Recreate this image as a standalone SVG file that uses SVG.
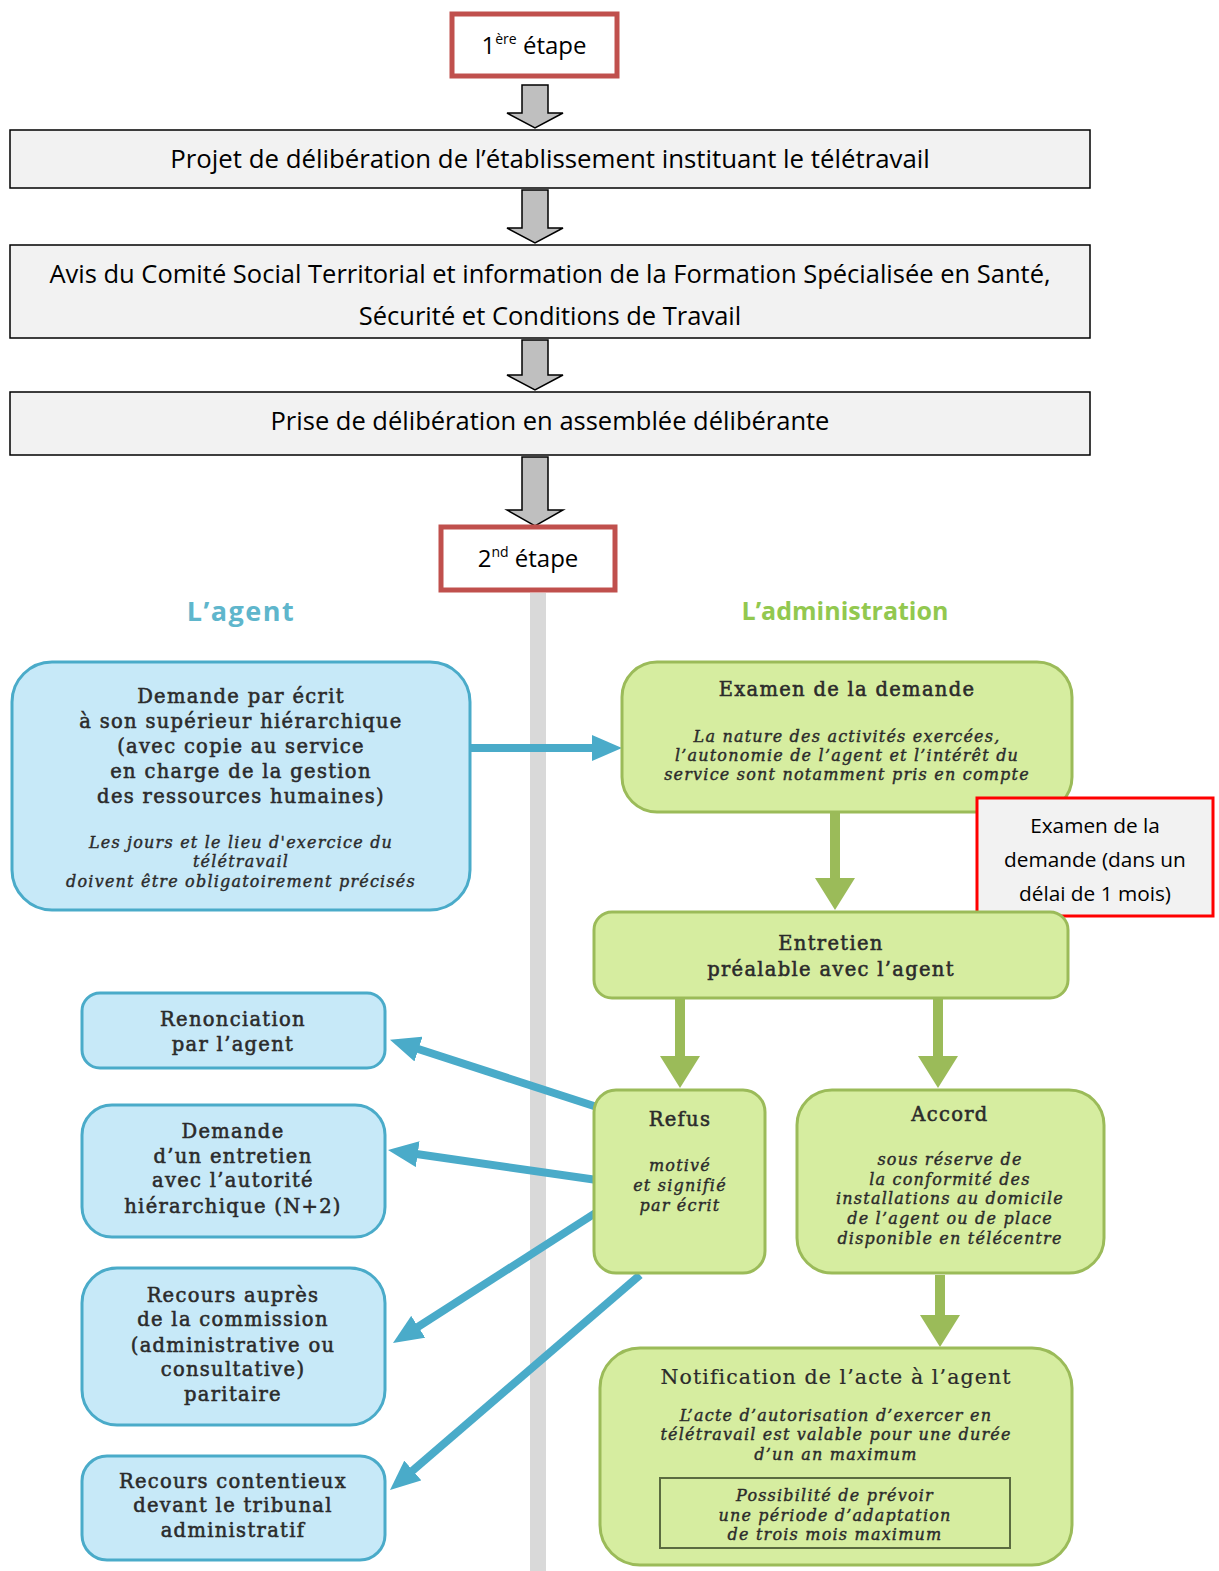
<svg xmlns="http://www.w3.org/2000/svg" width="1219" height="1571" viewBox="0 0 1219 1571">
<defs>
<style>
.sans{font-family:"Open Sans","Liberation Sans",sans-serif;fill:#000;text-anchor:middle}
.ser{font-family:"DejaVu Serif","Liberation Serif",serif;fill:#2b2b2b;stroke:#2b2b2b;stroke-width:0.55px;text-anchor:middle;font-size:19.5px;letter-spacing:1.3px}
.ital{font-style:italic;font-size:16px;letter-spacing:1.2px;stroke-width:0.4px}
.step{fill:#fff;stroke:#c0504d;stroke-width:5}
.pbox{fill:#f2f2f2;stroke:#000;stroke-width:1.5}
.garr{fill:#bfbfbf;stroke:#000;stroke-width:1.5}
.blue{fill:#c7e9f8;stroke:#4aabc9;stroke-width:3}
.green{fill:#d6eda0;stroke:#9bbb59;stroke-width:3}
.bl{stroke:#4aabc9;stroke-width:8;fill:none}
.gl{stroke:#9bbb59;stroke-width:10;fill:none}
</style>
<marker id="bh" markerUnits="userSpaceOnUse" markerWidth="30" markerHeight="26" refX="10" refY="13" orient="auto" viewBox="0 0 30 26">
<path d="M0,0 L30,13 L0,26 z" fill="#4aabc9"/>
</marker>
<marker id="gh" markerUnits="userSpaceOnUse" markerWidth="32" markerHeight="40" refX="10" refY="20" orient="auto" viewBox="0 0 32 40">
<path d="M0,0 L32,20 L0,40 z" fill="#9bbb59"/>
</marker>
</defs>
<rect width="1219" height="1571" fill="#fff"/>
<rect x="530" y="593" width="16" height="978" fill="#d9d9d9"/>

<g id="connectors">
<polygon class="garr" points="522,85 548,85 548,113 563,113 535,128 507,113 522,113"/>
<polygon class="garr" points="522,190 548,190 548,228 563,228 535,243 507,228 522,228"/>
<polygon class="garr" points="522,340 548,340 548,375 563,375 535,390 507,375 522,375"/>
<polygon class="garr" points="522,457 548,457 548,510 563,510 535,526 507,510 522,510"/>
<line class="bl" x1="470" y1="748" x2="602" y2="748" marker-end="url(#bh)"/>
<line class="gl" x1="835" y1="812" x2="835" y2="888" marker-end="url(#gh)"/>
<line class="gl" x1="680" y1="998" x2="680" y2="1066" marker-end="url(#gh)"/>
<line class="gl" x1="938" y1="998" x2="938" y2="1066" marker-end="url(#gh)"/>
<line class="gl" x1="940" y1="1275" x2="940" y2="1325" marker-end="url(#gh)"/>
<line class="bl" x1="597" y1="1107" x2="409" y2="1046" marker-end="url(#bh)"/>
<line class="bl" x1="597" y1="1180" x2="407.8" y2="1152.8" marker-end="url(#bh)"/>
<line class="bl" x1="597" y1="1212" x2="409.8" y2="1332.2" marker-end="url(#bh)"/>
<line class="bl" x1="640" y1="1275" x2="405.2" y2="1477" marker-end="url(#bh)"/>
</g>

<g id="step1">
<rect class="step" x="452" y="14" width="165" height="62"/>
<text class="sans" x="534" y="54" font-size="24">1<tspan font-size="14" dy="-10">ère</tspan><tspan dy="10"> étape</tspan></text>
</g>
<g id="projet">
<rect class="pbox" x="10" y="130" width="1080" height="58"/>
<text class="sans" x="550" y="168" font-size="25.8">Projet de délibération de l’établissement instituant le télétravail</text>
</g>
<g id="avis">
<rect class="pbox" x="10" y="245" width="1080" height="93"/>
<text class="sans" x="550" y="283" font-size="25.5">Avis du Comité Social Territorial et information de la Formation Spécialisée en Santé,</text>
<text class="sans" x="550" y="325" font-size="25.5">Sécurité et Conditions de Travail</text>
</g>
<g id="prise">
<rect class="pbox" x="10" y="392" width="1080" height="63"/>
<text class="sans" x="550" y="430" font-size="25.5">Prise de délibération en assemblée délibérante</text>
</g>
<g id="step2">
<rect class="step" x="441" y="527" width="174" height="63"/>
<text class="sans" x="528" y="567" font-size="24">2<tspan font-size="14" dy="-10">nd</tspan><tspan dy="10"> étape</tspan></text>
</g>

<g id="headers">
<text x="241" y="621" font-family="'Open Sans','Liberation Sans',sans-serif" font-weight="bold" font-size="27" letter-spacing="1.5" fill="#5fb6cc" text-anchor="middle">L’agent</text>
<text x="845" y="620" font-family="'Open Sans','Liberation Sans',sans-serif" font-weight="bold" font-size="25" fill="#92c84f" text-anchor="middle">L’administration</text>
</g>

<g id="demande">
<rect class="blue" x="12" y="662" width="458" height="248" rx="40"/>
<text class="ser"><tspan x="241" y="703">Demande par écrit</tspan><tspan x="241" y="728">à son supérieur hiérarchique</tspan><tspan x="241" y="753">(avec copie au service</tspan><tspan x="241" y="778">en charge de la gestion</tspan><tspan x="241" y="803">des ressources humaines)</tspan></text>
<text class="ser ital"><tspan x="241" y="848">Les jours et le lieu d'exercice du</tspan><tspan x="241" y="867">télétravail</tspan><tspan x="241" y="887">doivent être obligatoirement précisés</tspan></text>
</g>

<g id="examen">
<rect class="green" x="622" y="662" width="450" height="150" rx="35"/>
<text class="ser" x="847" y="696">Examen de la demande</text>
<text class="ser ital"><tspan x="847" y="742">La nature des activités exercées,</tspan><tspan x="847" y="761">l’autonomie de l’agent et l’intérêt du</tspan><tspan x="847" y="780">service sont notamment pris en compte</tspan></text>
</g>

<g id="delai">
<rect x="977" y="798" width="236" height="118" fill="#f2f2f2" stroke="#ff0000" stroke-width="3"/>
<text class="sans" font-size="20.8"><tspan x="1095" y="833">Examen de la</tspan><tspan x="1095" y="867">demande (dans un</tspan><tspan x="1095" y="901">délai de 1 mois)</tspan></text>
</g>

<g id="entretien">
<rect class="green" x="594" y="912" width="474" height="86" rx="18"/>
<text class="ser"><tspan x="831" y="950">Entretien</tspan><tspan x="831" y="976">préalable avec l’agent</tspan></text>
</g>

<g id="refus">
<rect class="green" x="594" y="1090" width="171" height="183" rx="22"/>
<text class="ser" x="680" y="1126">Refus</text>
<text class="ser ital"><tspan x="680" y="1171">motivé</tspan><tspan x="680" y="1191">et signifié</tspan><tspan x="680" y="1211">par écrit</tspan></text>
</g>

<g id="accord">
<rect class="green" x="797" y="1090" width="307" height="183" rx="35"/>
<text class="ser" x="950" y="1121">Accord</text>
<text class="ser ital"><tspan x="950" y="1165">sous réserve de</tspan><tspan x="950" y="1185">la conformité des</tspan><tspan x="950" y="1204">installations au domicile</tspan><tspan x="950" y="1224">de l’agent ou de place</tspan><tspan x="950" y="1244">disponible en télécentre</tspan></text>
</g>

<g id="notification">
<rect class="green" x="600" y="1348" width="472" height="217" rx="40"/>
<text class="ser" x="836" y="1384" style="stroke-width:0.2px;font-size:20.5px;letter-spacing:1.1px">Notification de l’acte à l’agent</text>
<text class="ser ital"><tspan x="836" y="1421">L’acte d’autorisation d’exercer en</tspan><tspan x="836" y="1440">télétravail est valable pour une durée</tspan><tspan x="836" y="1460">d’un an maximum</tspan></text>
<rect x="660" y="1478" width="350" height="70" fill="none" stroke="#5b6b40" stroke-width="2"/>
<text class="ser ital"><tspan x="835" y="1501">Possibilité de prévoir</tspan><tspan x="835" y="1521">une période d’adaptation</tspan><tspan x="835" y="1540">de trois mois maximum</tspan></text>
</g>

<g id="renonciation">
<rect class="blue" x="82" y="993" width="303" height="75" rx="18"/>
<text class="ser"><tspan x="233" y="1026">Renonciation</tspan><tspan x="233" y="1051">par l’agent</tspan></text>
</g>
<g id="entretienN2">
<rect class="blue" x="82" y="1105" width="303" height="132" rx="30"/>
<text class="ser"><tspan x="233" y="1138">Demande</tspan><tspan x="233" y="1163">d’un entretien</tspan><tspan x="233" y="1187">avec l’autorité</tspan><tspan x="233" y="1213">hiérarchique (N+2)</tspan></text>
</g>
<g id="recoursCommission">
<rect class="blue" x="82" y="1268" width="303" height="157" rx="35"/>
<text class="ser"><tspan x="233" y="1302">Recours auprès</tspan><tspan x="233" y="1326">de la commission</tspan><tspan x="233" y="1352">(administrative ou</tspan><tspan x="233" y="1376">consultative)</tspan><tspan x="233" y="1401">paritaire</tspan></text>
</g>
<g id="recoursContentieux">
<rect class="blue" x="82" y="1456" width="303" height="104" rx="25"/>
<text class="ser"><tspan x="233" y="1488">Recours contentieux</tspan><tspan x="233" y="1512">devant le tribunal</tspan><tspan x="233" y="1537">administratif</tspan></text>
</g>
</svg>
